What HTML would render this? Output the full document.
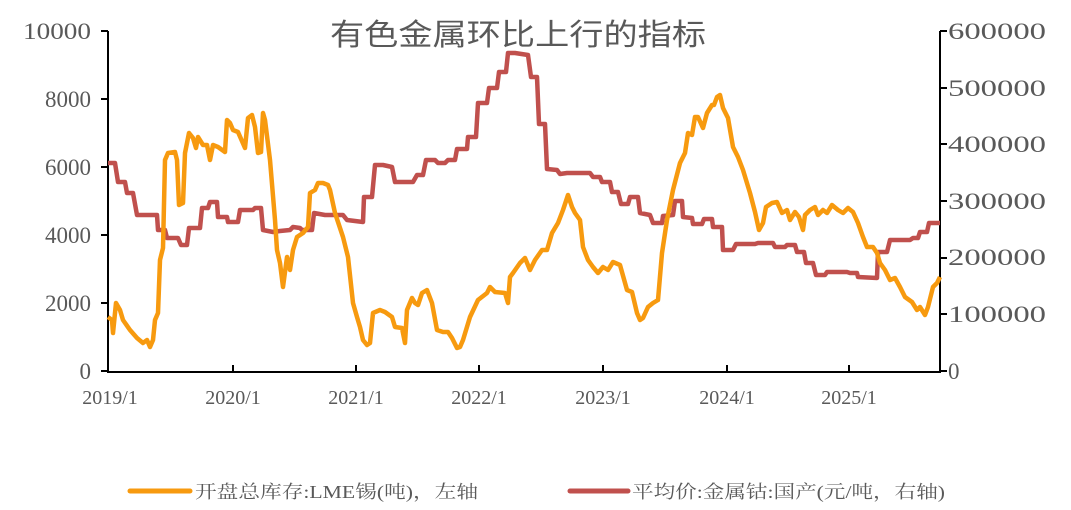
<!DOCTYPE html>
<html><head><meta charset="utf-8"><style>html,body{margin:0;padding:0;background:#fff;}svg{display:block}</style></head>
<body>
<svg width="1071" height="510" viewBox="0 0 1071 510" xmlns="http://www.w3.org/2000/svg">
<g font-family="'Liberation Serif','Noto Serif CJK SC',serif" fill="#595959">
<text x="330" y="45" font-size="30" textLength="376" lengthAdjust="spacingAndGlyphs" font-family="'Liberation Sans','Noto Sans CJK SC',sans-serif" fill="#595959">有色金属环比上行的指标</text>
<g font-size="23" text-anchor="end">
<text x="91" y="39" textLength="68" lengthAdjust="spacingAndGlyphs">10000</text><text x="91" y="107">8000</text><text x="91" y="175">6000</text><text x="91" y="243">4000</text><text x="91" y="311">2000</text><text x="91" y="379">0</text>
</g>
<g font-size="23">
<text x="948" y="39" textLength="98" lengthAdjust="spacingAndGlyphs">600000</text><text x="948" y="96" textLength="98" lengthAdjust="spacingAndGlyphs">500000</text><text x="948" y="152" textLength="98" lengthAdjust="spacingAndGlyphs">400000</text><text x="948" y="209" textLength="98" lengthAdjust="spacingAndGlyphs">300000</text><text x="948" y="265" textLength="98" lengthAdjust="spacingAndGlyphs">200000</text><text x="948" y="322" textLength="98" lengthAdjust="spacingAndGlyphs">100000</text><text x="948" y="379">0</text>
</g>
<g font-size="20" text-anchor="middle">
<text x="110" y="404">2019/1</text><text x="233" y="404">2020/1</text><text x="356" y="404">2021/1</text><text x="479" y="404">2022/1</text><text x="603" y="404">2023/1</text><text x="727" y="404">2024/1</text><text x="849" y="404">2025/1</text>
</g>
</g>
<g stroke="#000" stroke-width="2" fill="none">
<path d="M108 31V372H940V31"/>
<path d="M101 31H108M101 99H108M101 167H108M101 235H108M101 303H108M101 371H108"/>
<path d="M940 31H947M940 88H947M940 144H947M940 201H947M940 258H947M940 314H947M940 371H947"/>
<path d="M233 372V365M356 372V365M479 372V365M603 372V365M727 372V365M849 372V365"/>
</g>
<polyline fill="none" stroke="#c0504d" stroke-width="4.5" stroke-linejoin="round" points="108,163 115,163 118,182 125,182 127,193 133,193 137,215 157,215 158,230 165,230 167,238 178,238 181,245 187,245 189,228 200,228 202,208 208,208 210,202 217,202 218,217 227,217 228,222 238,222 240,210 253,210 255,208 261,208 263,230 273,232 280,231 290,230 293,227 300,228 302,230 312,230 314,213 325,215 343,215 347,220 363,222 364,197 372,197 375,165 383,165 392,167 395,182 413,182 417,175 423,175 426,160 435,160 438,163 445,163 448,160 455,160 457,149 467,149 468,137 476,137 478,103 487,103 489,88 497,88 499,72 506,72 508,53 515,53 528,55 531,77 537,77 539,124 545,124 547,169 557,170 560,174 567,173 590,173 593,177 600,177 602,182 610,182 612,192 618,192 621,204 628,204 630,197 638,197 640,213 650,215 653,223 662,223 663,216 673,215 675,201 682,201 683,217 692,218 693,224 702,224 704,219 712,219 713,227 722,227 723,250 733,250 736,244 755,244 758,243 773,243 775,247 785,247 787,245 795,245 797,252 804,252 806,263 813,263 816,275 825,275 827,272 847,272 850,273 857,273 858,277 877,278 878,252 887,252 890,240 910,240 913,238 918,238 920,232 927,232 929,223 940,223"/>
<polyline fill="none" stroke="#f79a0f" stroke-width="4.5" stroke-linejoin="round" points="108,317 112,320 113,333 116,303 120,310 123,320 130,330 137,338 143,343 147,340 150,347 153,340 155,320 158,313 160,260 163,248 165,160 168,153 175,152 177,160 179,205 183,203 185,153 189,133 193,138 196,148 198,137 203,145 207,145 210,160 213,145 218,147 225,152 227,120 230,123 233,130 238,132 245,148 248,118 252,115 255,127 258,153 261,152 263,113 265,120 270,160 275,220 277,250 280,263 283,287 287,257 290,270 293,250 297,237 303,233 308,227 310,193 315,190 318,183 323,183 328,185 330,190 335,213 343,237 348,257 353,303 357,317 360,327 363,340 367,345 370,343 373,313 380,310 385,312 392,317 395,327 402,328 405,343 407,310 412,298 415,303 418,305 422,293 427,290 432,303 437,330 443,332 448,332 452,338 457,348 460,347 463,340 470,317 478,300 487,293 490,287 495,292 505,293 508,303 510,277 513,273 520,263 525,258 530,270 535,260 542,250 547,250 552,233 558,223 563,210 568,195 572,207 575,213 580,220 583,247 588,260 593,267 598,273 603,267 608,270 613,262 620,265 627,290 632,292 637,313 640,320 643,318 648,307 653,303 658,300 662,253 667,220 673,190 680,163 685,153 688,133 692,135 695,117 698,117 703,128 707,113 712,105 714,105 717,97 720,95 723,108 728,118 733,147 738,157 743,170 750,193 755,212 759,230 763,223 766,207 772,203 777,202 782,213 787,210 790,220 795,212 799,217 803,230 805,215 810,210 815,207 818,215 823,210 827,213 832,205 838,210 843,213 848,208 853,212 858,223 863,237 867,247 873,247 877,253 880,263 885,270 890,280 895,278 900,287 905,297 912,302 917,310 920,307 925,315 928,307 933,287 937,283 940,277"/>
<line x1="130" y1="491" x2="190" y2="491" stroke="#f79a0f" stroke-width="5" stroke-linecap="round"/>
<line x1="570" y1="491" x2="628" y2="491" stroke="#c0504d" stroke-width="5" stroke-linecap="round"/>
<g font-family="'Liberation Serif','Noto Serif CJK SC',serif" font-size="18" fill="#595959">
<text x="195" y="498" textLength="283" lengthAdjust="spacingAndGlyphs">开盘总库存:LME锡(吨)，左轴</text>
<text x="632" y="498" textLength="313" lengthAdjust="spacingAndGlyphs">平均价:金属钴:国产(元/吨，右轴)</text>
</g>
</svg>
</body></html>
